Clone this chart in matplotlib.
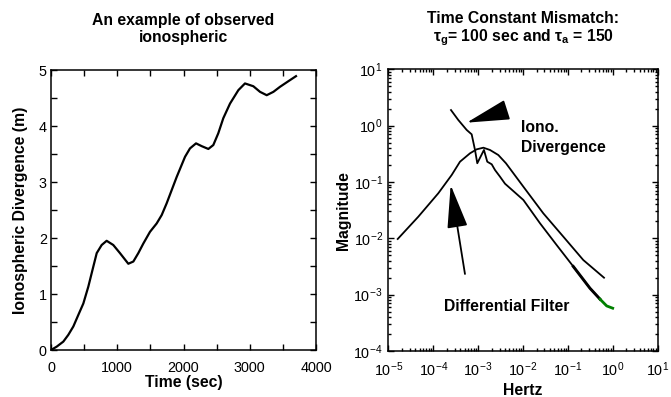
import matplotlib
matplotlib.use("Agg")
import matplotlib.pyplot as plt
from matplotlib.ticker import MultipleLocator, LogLocator, NullFormatter

# ---- observed ionospheric divergence (time series) ----
time_sec = [0, 86, 186, 261, 337, 412, 488, 563, 639, 690, 765, 840, 940, 1041,
            1167, 1243, 1318, 1393, 1494, 1595, 1671, 1746, 1897, 2023, 2098,
            2189, 2275, 2375, 2450, 2525, 2601, 2702, 2828, 2928, 3054, 3155,
            3256, 3357, 3457, 3583, 3698]
iono_div_m = [0.0, 0.06, 0.15, 0.27, 0.42, 0.625, 0.83, 1.13, 1.49, 1.73, 1.875,
              1.95, 1.875, 1.73, 1.54, 1.58, 1.73, 1.90, 2.11, 2.26, 2.41, 2.62,
              3.09, 3.45, 3.60, 3.69, 3.64, 3.59, 3.66, 3.87, 4.14, 4.40, 4.64,
              4.76, 4.71, 4.61, 4.55, 4.61, 4.70, 4.80, 4.89]

# ---- differential filter magnitude response ----
filter_hz = [1.62e-5, 4.66e-5, 1.30e-4, 2.58e-4, 3.95e-4, 6.61e-4, 9.31e-4,
             1.31e-3, 1.84e-3, 2.82e-3, 4.17e-3, 1.02e-2, 2.83e-2, 7.91e-2,
             0.220, 0.637]
filter_mag = [9.73e-3, 2.42e-2, 6.31e-2, 0.133, 0.229, 0.323, 0.380, 0.406,
              0.370, 0.301, 0.215, 8.24e-2, 2.78e-2, 1.07e-2, 4.12e-3, 2.00e-3]

# ---- ionospheric divergence spectrum ----
spec_hz = [2.49e-4, 3.62e-4, 5.57e-4, 7.19e-4, 8.53e-4, 9.59e-4, 1.35e-3,
           1.60e-3, 2.01e-3, 2.38e-3, 3.08e-3, 3.97e-3, 1.02e-2, 2.39e-2,
           5.62e-2, 0.132, 0.310, 0.519]
spec_mag = [1.89, 1.26, 0.838, 0.701, 0.370, 0.215, 0.370, 0.229, 0.206, 0.163,
            0.124, 9.33e-2, 4.79e-2, 1.85e-2, 7.59e-3, 3.16e-3, 1.30e-3, 8.32e-4]
spec_tail_hz = [0.519, 0.731, 0.995]
spec_tail_mag = [8.32e-4, 6.31e-4, 5.75e-4]

plt.rcParams['font.family'] = ['Liberation Sans', 'DejaVu Sans']
plt.rcParams['axes.linewidth'] = 1.1

fig = plt.figure(figsize=(6.71, 3.97), dpi=100)
W, H = 671.0, 397.0

BOLD = dict(fontsize=11.3, fontweight='bold')

# left panel
ax1 = fig.add_axes([51 / W, 1 - 350 / H, 265 / W, 280 / H])
ax1.plot(time_sec, iono_div_m, color='k', lw=1.6)
ax1.set_xlim(0, 4000)
ax1.set_ylim(0, 5)
ax1.xaxis.set_major_locator(MultipleLocator(1000))
ax1.xaxis.set_minor_locator(MultipleLocator(500))
ax1.yaxis.set_major_locator(MultipleLocator(1))
ax1.yaxis.set_minor_locator(MultipleLocator(0.5))
ax1.tick_params(which='both', direction='in', top=True, right=True,
                length=4, width=1.0, labelsize=10.4)
ax1.tick_params(axis='x', pad=8)
ax1.tick_params(axis='y', pad=3)
ax1.set_xlabel('Time (sec)', labelpad=0, **BOLD)
ax1.set_ylabel('Ionospheric Divergence (m)', labelpad=8, **BOLD)
ax1.set_title('An example of observed\nionospheric', pad=20,
              linespacing=1.15, **BOLD)

# right panel
ax2 = fig.add_axes([388.3 / W, 1 - 351 / H, 269.4 / W, 281.7 / H])
ax2.set_xscale('log')
ax2.set_yscale('log')
ax2.plot(filter_hz, filter_mag, color='k', lw=1.3)
ax2.plot(spec_hz, spec_mag, color='k', lw=1.3)
ax2.plot(spec_hz[-3:], spec_mag[-3:], color='k', lw=2.1)
ax2.plot(spec_tail_hz, spec_tail_mag, color='#008000', lw=2.0)
ax2.set_xlim(1e-5, 10)
ax2.set_ylim(1e-4, 10)
ax2.xaxis.set_major_locator(LogLocator(base=10, numticks=10))
ax2.xaxis.set_minor_locator(LogLocator(base=10, subs=range(2, 10), numticks=20))
ax2.yaxis.set_major_locator(LogLocator(base=10, numticks=10))
ax2.yaxis.set_minor_locator(LogLocator(base=10, subs=range(2, 10), numticks=20))
ax2.xaxis.set_minor_formatter(NullFormatter())
ax2.yaxis.set_minor_formatter(NullFormatter())
ax2.tick_params(which='both', direction='in', top=True, right=True, width=1.0,
                labelsize=10.4)
ax2.tick_params(which='major', length=4)
ax2.tick_params(which='minor', length=2)
ax2.tick_params(axis='x', pad=7)
ax2.tick_params(axis='y', pad=4)
ax2.set_xlabel('Hertz', labelpad=3, **BOLD)
ax2.set_ylabel('Magnitude', labelpad=2, **BOLD)
ax2.set_title('Time Constant Mismatch:\n'
              r'$\mathdefault{\tau_g}$= 100 sec and $\mathdefault{\tau_a}$ = 150',
              pad=20, linespacing=1.15, **BOLD)

arrow = dict(arrowstyle='-|>,head_length=1.35,head_width=0.32', color='k',
             lw=1.3, shrinkA=0, shrinkB=0, mutation_scale=20)
ax2.annotate('', xy=(5.57e-4, 1.13), xytext=(3.64e-3, 1.82), arrowprops=arrow)
ax2.annotate('', xy=(2.45e-4, 0.0883), xytext=(5.1e-4, 2.33e-3),
             arrowprops=arrow)

ax2.text(0.4926, 0.792, 'Iono.', transform=ax2.transAxes, ha='left',
         va='center', **BOLD)
ax2.text(0.4926, 0.721, 'Divergence', transform=ax2.transAxes, ha='left',
         va='center', **BOLD)
ax2.text(0.438, 0.157, 'Differential Filter', transform=ax2.transAxes,
         ha='center', va='center', **BOLD)

fig.savefig('out.png', dpi=100)
